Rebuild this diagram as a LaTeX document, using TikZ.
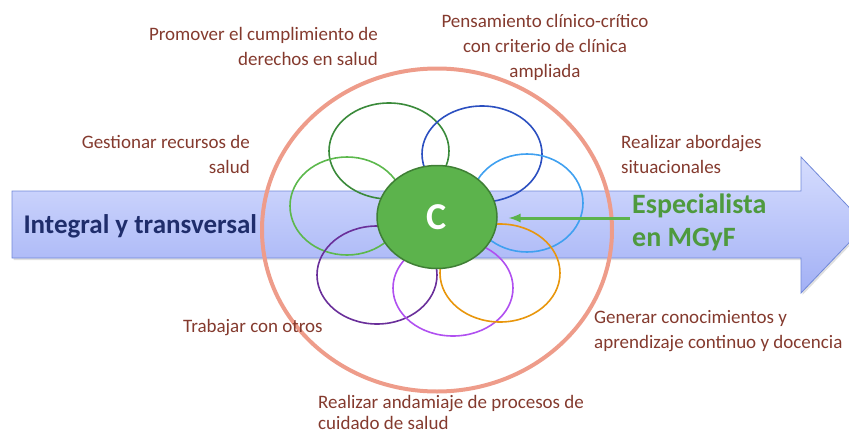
\documentclass[tikz,border=0pt]{standalone}
\usepackage{fontspec}
\setmainfont{Carlito}
\usetikzlibrary{shapes.geometric,shadows}
\definecolor{labelred}{HTML}{843A2E}
\definecolor{navy}{HTML}{1F2D6B}
\definecolor{salmon}{HTML}{EE9C8A}
\definecolor{cgreen}{HTML}{5CB34C}
\definecolor{cdark}{HTML}{3F7F35}
\definecolor{espgreen}{HTML}{4E9A3E}
\definecolor{arrowline}{HTML}{7088D8}
\definecolor{arrowtop}{HTML}{D6DDFE}
\definecolor{arrowbot}{HTML}{A2B0F5}

\begin{document}
\begin{tikzpicture}[x=1pt,y=-1pt,
    lbl/.style={text=labelred, inner sep=0pt, font=\fontsize{19}{25}\selectfont},
    petal/.style={draw, ellipse, line width=1.6pt, inner sep=0pt, minimum width=120pt, minimum height=96pt}]
\useasboundingbox (0,0) rectangle (849,434);

\path[fill=white, drop shadow={opacity=0.25, shadow xshift=1.5pt, shadow yshift=-2pt},
      top color=arrowtop, bottom color=arrowbot, draw=arrowline, line width=0.8pt]
    (12,191) -- (801,191) -- (801,157) -- (866,225) -- (801,293) -- (801,258) -- (12,258) -- cycle;

\node (integral) [anchor=west, text=navy, font=\fontsize{27}{30}\selectfont\bfseries] at (20,226) {Integral y transversal};

\node (salmon) [draw=salmon, ellipse, line width=4pt, minimum width=350pt, minimum height=323pt] at (437,230) {};

\node (p1) [petal, draw={rgb,255:red,58;green,138;blue,58}] at (389,151) {};
\node (p2) [petal, draw={rgb,255:red,43;green,79;blue,192}] at (482,154) {};
\node (p3) [petal, draw={rgb,255:red,63;green,160;blue,240}, minimum width=112pt, minimum height=98pt] at (527,203) {};
\node (p4) [petal, draw={rgb,255:red,92;green,184;blue,76}, minimum width=114pt, minimum height=98pt] at (347,206) {};
\node (p5) [petal, draw={rgb,255:red,106;green,47;blue,154}, minimum height=98pt] at (377,275) {};
\node (p6) [petal, draw={rgb,255:red,176;green,80;blue,240}] at (453,288) {};
\node (p7) [petal, draw={rgb,255:red,232;green,150;blue,12}, minimum height=98pt] at (500,273) {};

\node (c) [ellipse, fill=cgreen, draw=cdark, line width=1.5pt, minimum width=120pt, minimum height=103pt,
    text=white, font=\fontsize{38}{40}\selectfont\bfseries] at (437,217) {C};

\node (esp) [anchor=north west, align=left, inner sep=0pt, text=espgreen,
    font=\fontsize{28}{33}\selectfont\bfseries] at (632,194) {Especialista\\en MGyF};
\coordinate (esptail) at (630,218);
\draw[-latex, cgreen, line width=3pt, shorten >=11pt] (esptail) -- (c.east |- esptail);

\node (promover) [lbl, anchor=north east, align=right] at (378,27) {Promover el cumplimiento de\\derechos en salud};
\node (pensamiento) [lbl, anchor=north, align=center] at (545,14) {Pensamiento clínico-crítico\\con criterio de clínica\\ampliada};
\node (gestionar) [lbl, anchor=north east, align=right] at (250,135) {Gestionar recursos de\\salud};
\node (abordajes) [lbl, anchor=north west, align=left] at (621,135) {Realizar abordajes\\situacionales};
\node (trabajar) [lbl, anchor=north west] at (183,319) {Trabajar con otros};
\node (generar) [lbl, anchor=north west, align=left] at (594,310) {Generar conocimientos y\\aprendizaje continuo y docencia};
\node (andamiaje) [lbl, anchor=north west, align=left, font=\fontsize{19}{21}\selectfont] at (318,395) {Realizar andamiaje de procesos de\\cuidado de salud};
\end{tikzpicture}
\end{document}
